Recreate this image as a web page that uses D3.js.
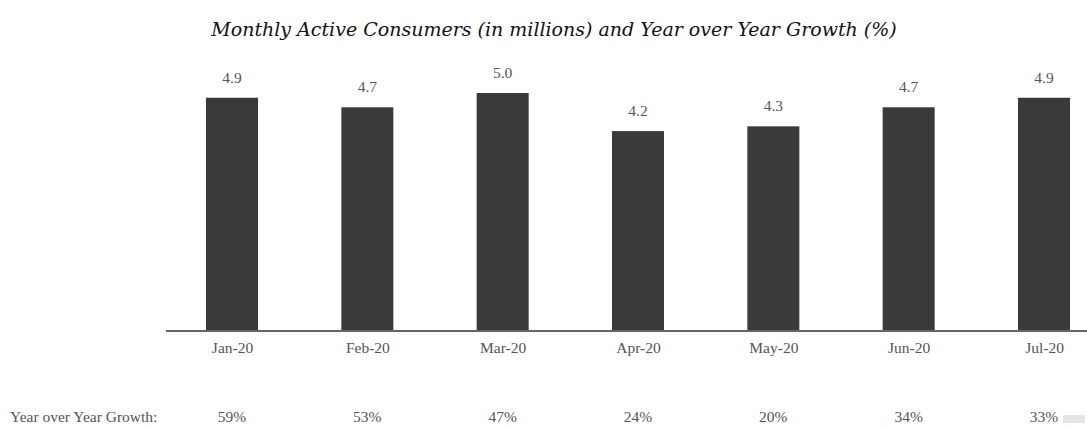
<!DOCTYPE html>
<html>
<head>
<meta charset="utf-8">
<script src="https://cdn.jsdelivr.net/npm/d3@7"></script>
<style>
  body { margin: 0; background: #fff; }
</style>
</head>
<body>
<div id="grafico"></div>
<script>
// datos
const meses = ["Jan-20", "Feb-20", "Mar-20", "Apr-20", "May-20", "Jun-20", "Jul-20"];
const consumidores = [4.9, 4.7, 5.0, 4.2, 4.3, 4.7, 4.9];
const crecimiento = ["59%", "53%", "47%", "24%", "20%", "34%", "33%"];

document.addEventListener("DOMContentLoaded", () => {
  const width = 1087;
  const height = 427;
  const baseY = 331;
  const fuente = "'Liberation Serif', 'Times New Roman', serif";

  const svg = d3.select("#grafico")
    .append("svg")
    .attr("width", width)
    .attr("height", height);

  const x = d3.scalePoint().domain(meses).range([232, 1044]);
  const y = d3.scaleLinear().domain([0, 5]).range([baseY, 93]);
  const barW = 52;

  // titulo
  svg.append("text")
    .attr("x", 554)
    .attr("y", 36)
    .attr("text-anchor", "middle")
    .style("font-family", "'DejaVu Serif', serif")
    .style("font-style", "italic")
    .style("font-size", "19px")
    .style("fill", "#111")
    .text("Monthly Active Consumers (in millions) and Year over Year Growth (%)");

  // barras
  svg.selectAll("rect.barra")
    .data(consumidores)
    .enter()
    .append("rect")
    .attr("class", "barra")
    .attr("x", (d, i) => x(meses[i]) - barW / 2)
    .attr("y", d => y(d))
    .attr("width", barW)
    .attr("height", d => baseY - y(d))
    .attr("fill", "#3a3a3c");

  // eje
  svg.append("g")
    .attr("transform", `translate(0,${baseY})`)
    .call(d3.axisBottom(x).tickSize(0).tickPadding(11))
    .call(g => g.select(".domain").attr("d", "M166,0H1087").attr("stroke", "#666").attr("stroke-width", 2))
    .call(g => g.selectAll("text")
      .style("font-family", fuente)
      .style("font-size", "15.5px")
      .style("fill", "#555"));

  // etiquetas de valor
  svg.selectAll("text.valor")
    .data(consumidores)
    .enter()
    .append("text")
    .attr("class", "valor")
    .attr("x", (d, i) => x(meses[i]))
    .attr("y", d => y(d) - 15)
    .attr("text-anchor", "middle")
    .style("font-family", fuente)
    .style("font-size", "15.5px")
    .style("fill", "#555")
    .text(d => d.toFixed(1));

  // fila de crecimiento
  svg.append("text")
    .attr("x", 10)
    .attr("y", 422)
    .style("font-family", fuente)
    .style("font-size", "15.5px")
    .style("fill", "#555")
    .text("Year over Year Growth:");

  svg.selectAll("text.crec")
    .data(crecimiento)
    .enter()
    .append("text")
    .attr("class", "crec")
    .attr("x", (d, i) => x(meses[i]))
    .attr("y", 422)
    .attr("text-anchor", "middle")
    .style("font-family", fuente)
    .style("font-size", "15.5px")
    .style("fill", "#555")
    .text(d => d);

  svg.append("rect")
    .attr("x", 1063)
    .attr("y", 415)
    .attr("width", 22)
    .attr("height", 8)
    .attr("fill", "#e4e4e4");
});
</script>
</body>
</html>
